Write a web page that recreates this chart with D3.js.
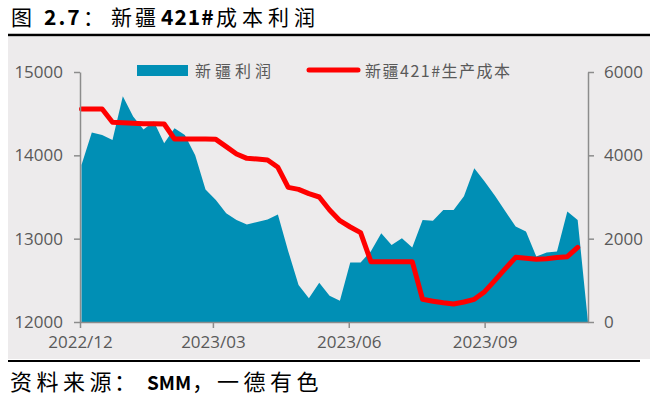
<!DOCTYPE html>
<html>
<head>
<meta charset="utf-8">
<script src="https://cdn.jsdelivr.net/npm/d3@7"></script>
<style>
  body { margin: 0; background: #fff; }
  svg { display: block; }
</style>
</head>
<body>
<div id="chart"></div>
<script>
// weekly dates
const dates = [
  '2022-12-02','2022-12-09','2022-12-16','2022-12-23','2022-12-30',
  '2023-01-06','2023-01-13','2023-01-20','2023-01-27',
  '2023-02-03','2023-02-10','2023-02-17','2023-02-24',
  '2023-03-03','2023-03-10','2023-03-17','2023-03-24','2023-03-31',
  '2023-04-07','2023-04-14','2023-04-21','2023-04-28',
  '2023-05-05','2023-05-12','2023-05-19','2023-05-26',
  '2023-06-02','2023-06-09','2023-06-16','2023-06-23','2023-06-30',
  '2023-07-07','2023-07-14','2023-07-21','2023-07-28',
  '2023-08-04','2023-08-11','2023-08-18','2023-08-25',
  '2023-09-01','2023-09-08','2023-09-15','2023-09-22','2023-09-29',
  '2023-10-06','2023-10-13','2023-10-20','2023-10-27',
  '2023-11-03','2023-11-10'
];
// 新疆利润 (right axis)
const profit = [
  3770, 4550, 4490, 4370, 5420, 4930, 4620, 4810, 4290, 4650,
  4490, 4000, 3180, 2930, 2610, 2450, 2340, 2400, 2460, 2580,
  1700, 890, 570, 940, 630, 510, 1430, 1430, 1700, 2130,
  1850, 2010, 1790, 2450, 2430, 2690, 2690, 3020, 3690, 3370,
  3030, 2660, 2290, 2170, 1570, 1670, 1690, 2650, 2450, 0
];
// 新疆421#生产成本 (left axis)
const cost = [
  14556, 14556, 14556, 14396, 14390, 14385, 14380, 14378, 14376, 14196,
  14196, 14196, 14196, 14192, 14105, 14016, 13964, 13955, 13944, 13856,
  13616, 13592, 13540, 13500, 13344, 13216, 13140, 13072, 12724, 12724,
  12724, 12724, 12724, 12272, 12250, 12230, 12216, 12240, 12272, 12364,
  12500, 12640, 12776, 12765, 12752, 12760, 12775, 12784, 12896
];
const leftTicks = [12000, 13000, 14000, 15000];
const rightTicks = [0, 2000, 4000, 6000];
const xTickLabels = ['2022/12', '2023/03', '2023/06', '2023/09'];

const parse = d3.timeParse('%Y-%m-%d');
const W = 661, H = 397;
const margin = {top: 72, right: 73, bottom: 75, left: 80};
const width = W - margin.left - margin.right;
const height = H - margin.top - margin.bottom;
const cjk = '"Noto Sans CJK SC", sans-serif';

const svg = d3.select('#chart').append('svg')
    .attr('width', W)
    .attr('height', H);

// title and source are split in pieces to get the original's wide spacing
// piece: [x, text, bold, letterSpacing, fontSize]
function addPieces(pieces, y, size) {
  svg.append('g').selectAll('text')
      .data(pieces)
      .enter()
      .append('text')
      .attr('x', d => d[0])
      .attr('y', y)
      .attr('font-family', cjk)
      .attr('font-size', d => (d[4] || size) + 'px')
      .attr('font-weight', d => d[2] ? 'bold' : 'normal')
      .attr('letter-spacing', d => d[3] || 0)
      .attr('fill', '#000')
      .text(d => d[1]);
}

addPieces([
  [11, '图'],
  [44, '2.7', true, 2],
  [83, '：'],
  [111, '新疆', false, 3],
  [161, '421#', true, 1],
  [216, '成本利润', false, 5]
], 25, 21);

svg.append('rect')
    .attr('x', 8).attr('y', 37)
    .attr('width', 642).attr('height', 322)
    .attr('fill', '#EDEBEC');

svg.append('line')
    .attr('x1', 8).attr('x2', 650)
    .attr('y1', 35).attr('y2', 35)
    .attr('stroke', '#000').attr('stroke-width', 2.5);

svg.append('line')
    .attr('x1', 8).attr('x2', 640)
    .attr('y1', 361).attr('y2', 361)
    .attr('stroke', '#000').attr('stroke-width', 2);

addPieces([
  [10, '资料来源', false, 4.5],
  [114, '：'],
  [147, 'SMM', true, 0, 19],
  [192, '，'],
  [217, '一德有色', false, 4.5]
], 390, 22);

const g = svg.append('g')
    .attr('transform', 'translate(' + margin.left + ',' + margin.top + ')');

const x = d3.scaleTime()
    .domain([parse('2022-12-01'), parse('2023-11-10')])
    .range([0, width]);
const yL = d3.scaleLinear().domain([12000, 15000]).range([height, 0]);
const yR = d3.scaleLinear().domain([0, 6000]).range([height, 0]);

const profitData = dates.map((d, i) => ({date: parse(d), value: profit[i]}));
const costData = cost.map((v, i) => ({date: parse(dates[i]), value: v}));

const area = d3.area()
    .x(d => x(d.date))
    .y0(height)
    .y1(d => yR(d.value));

g.append('path')
    .datum(profitData)
    .attr('fill', '#008FB5')
    .attr('d', area);

const line = d3.line()
    .x(d => x(d.date))
    .y(d => yL(d.value));

g.append('path')
    .datum(costData)
    .attr('fill', 'none')
    .attr('stroke', '#FF0000')
    .attr('stroke-width', 5)
    .attr('stroke-linejoin', 'round')
    .attr('stroke-linecap', 'round')
    .attr('d', line);

const axisColor = '#8C8C8C';
const labelColor = '#595959';
function styleAxis(sel) {
  sel.select('.domain').attr('stroke', axisColor).attr('stroke-width', 1.5);
  sel.selectAll('.tick line').attr('stroke', axisColor).attr('stroke-width', 1.5);
  sel.selectAll('.tick text')
      .attr('fill', labelColor)
      .attr('font-family', '"Open Sans", sans-serif')
      .attr('font-size', '17px');
}

g.append('g')
    .call(d3.axisLeft(yL).tickValues(leftTicks).tickFormat(d3.format('d'))
      .tickSize(6).tickSizeOuter(0).tickPadding(11))
    .call(styleAxis);

g.append('g')
    .attr('transform', 'translate(' + width + ',0)')
    .call(d3.axisRight(yR).tickValues(rightTicks).tickFormat(d3.format('d'))
      .tickSize(6).tickSizeOuter(0).tickPadding(10))
    .call(styleAxis);

const xTicks = xTickLabels.map(s => d3.timeParse('%Y/%m')(s));
g.append('g')
    .attr('transform', 'translate(0,' + height + ')')
    .call(d3.axisBottom(x).tickValues(xTicks).tickFormat(d3.timeFormat('%Y/%m'))
      .tickSize(6).tickSizeOuter(0).tickPadding(8))
    .call(styleAxis);

// legend
const legend = svg.append('g');
legend.append('rect')
    .attr('x', 137).attr('y', 65)
    .attr('width', 51).attr('height', 11)
    .attr('fill', '#008FB5');
legend.append('text')
    .attr('x', 195).attr('y', 77)
    .attr('fill', labelColor)
    .attr('font-family', cjk)
    .attr('font-size', '16px')
    .attr('letter-spacing', 4)
    .text('新疆利润');
legend.append('line')
    .attr('x1', 309).attr('x2', 358)
    .attr('y1', 70).attr('y2', 70)
    .attr('stroke', '#FF0000')
    .attr('stroke-width', 5)
    .attr('stroke-linecap', 'round');
legend.append('text')
    .attr('x', 365).attr('y', 77)
    .attr('fill', labelColor)
    .attr('font-family', cjk)
    .attr('font-size', '16px')
    .attr('letter-spacing', 1.5)
    .text('新疆421#生产成本');
</script>
</body>
</html>
